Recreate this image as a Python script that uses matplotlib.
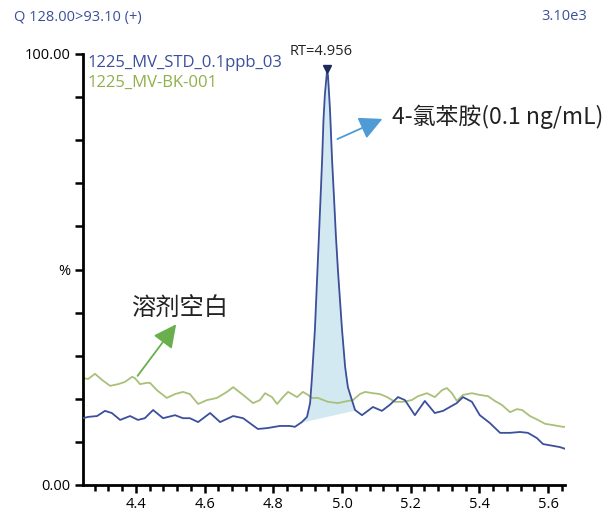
import numpy as np
import matplotlib.pyplot as plt

plt.rcParams['font.family'] = ['Open Sans', 'Noto Sans CJK SC', 'DejaVu Sans']

# retention time (min) / relative intensity (%)
std_t = [4.246, 4.261, 4.287, 4.310, 4.330, 4.354, 4.383, 4.406, 4.426, 4.450,
         4.479, 4.514, 4.537, 4.557, 4.581, 4.616, 4.645, 4.683, 4.712, 4.755,
         4.782, 4.819, 4.848, 4.863, 4.883, 4.898, 4.907, 4.912, 4.915, 4.921,
         4.927, 4.933, 4.939, 4.942, 4.946, 4.950, 4.956, 4.959, 4.965, 4.971,
         4.977, 4.982, 4.988, 4.994, 5.000, 5.009, 5.017, 5.026, 5.038, 5.058,
         5.090, 5.116, 5.139, 5.163, 5.183, 5.212, 5.241, 5.270, 5.294, 5.314,
         5.334, 5.352, 5.378, 5.401, 5.430, 5.460, 5.489, 5.518, 5.541, 5.567,
         5.585, 5.634, 5.649]
std_y = [15.5, 15.8, 16.0, 17.2, 16.7, 15.1, 16.0, 15.1, 15.5, 17.4,
         15.5, 16.2, 15.5, 15.5, 14.6, 16.7, 14.6, 16.0, 15.5, 13.0,
         13.2, 13.7, 13.7, 13.5, 14.6, 15.8, 19.0, 24.4, 28.3, 36.0,
         47.1, 58.2, 69.6, 75.4, 84.7, 90.5, 95.8, 95.1, 87.0, 75.4,
         66.1, 58.0, 49.9, 42.9, 36.0, 27.4, 22.7, 20.4, 17.4, 16.2,
         18.1, 17.2, 18.6, 20.4, 19.7, 16.2, 19.5, 16.7, 17.2, 18.1,
         19.0, 20.4, 19.3, 16.2, 14.4, 12.1, 12.1, 12.3, 12.1, 10.9,
         9.5, 8.8, 8.4]

blank_t = [4.246, 4.261, 4.281, 4.301, 4.325, 4.348, 4.368, 4.389, 4.397, 4.412,
           4.432, 4.441, 4.461, 4.490, 4.514, 4.537, 4.557, 4.581, 4.607, 4.636,
           4.665, 4.683, 4.712, 4.741, 4.761, 4.776, 4.796, 4.811, 4.828, 4.843,
           4.869, 4.886, 4.901, 4.912, 4.930, 4.959, 4.988, 5.017, 5.032, 5.052,
           5.067, 5.090, 5.110, 5.131, 5.154, 5.177, 5.203, 5.221, 5.247, 5.270,
           5.291, 5.305, 5.320, 5.334, 5.352, 5.378, 5.401, 5.425, 5.445, 5.465,
           5.489, 5.509, 5.524, 5.547, 5.570, 5.591, 5.614, 5.643, 5.649]
blank_y = [24.8, 24.6, 25.8, 24.4, 23.0, 23.4, 23.9, 25.1, 24.8, 23.4,
           23.7, 23.7, 22.0, 20.2, 21.1, 21.6, 21.1, 18.8, 19.7, 20.2,
           21.6, 22.7, 20.9, 19.0, 19.7, 21.3, 20.4, 18.8, 20.4, 21.6,
           20.4, 21.6, 20.9, 20.2, 20.2, 19.3, 19.0, 19.5, 19.7, 21.1,
           21.6, 21.3, 21.1, 20.4, 19.3, 19.3, 19.7, 20.6, 21.3, 20.4,
           22.0, 22.5, 21.3, 19.5, 20.9, 21.3, 20.9, 20.6, 19.5, 18.6,
           16.9, 17.6, 17.4, 16.0, 15.1, 14.2, 13.9, 13.5, 13.5]

peak_rt = 4.956
peak_start, peak_end = 4.883, 5.038
base_start, base_end = 14.6, 17.4

blue = '#3b4f9b'
green = '#a9c07a'

fig = plt.figure(figsize=(6.14, 5.13), dpi=100)
ax = fig.add_axes([83 / 614, 1 - 485 / 513, (565 - 83) / 614, (485 - 54) / 513])

st = np.array(std_t)
sy = np.array(std_y)
m = (st >= peak_start) & (st <= peak_end)
base = np.interp(st[m], [peak_start, peak_end], [base_start, base_end])
ax.fill_between(st[m], sy[m], base, color='#d3e9f1', lw=0, zorder=1)

ax.plot(blank_t, blank_y, color=green, lw=1.3, zorder=2)
ax.plot(std_t, std_y, color=blue, lw=1.3, zorder=3)

ax.plot([peak_rt], [96.6], marker='v', color='#1f2a5c', ms=6, zorder=4)
ax.text(4.939, 100.5, f'RT={peak_rt}', ha='center', va='center', fontsize=10.5, color='#222222')

ax.annotate('', xy=(5.125, 85.2), xytext=(4.979, 80.0),
            arrowprops=dict(arrowstyle='-|>,head_length=1.4,head_width=0.7',
                            color='#4f9bd6', lw=1.3))
ax.text(5.145, 85.4, '4-氯苯胺(0.1 ng/mL)', ha='left', va='center', fontsize=16.5,
        color='#222222', family=['Noto Sans CJK SC'], fontweight='light')

ax.annotate('', xy=(4.522, 37.8), xytext=(4.400, 24.8),
            arrowprops=dict(arrowstyle='-|>,head_length=1.4,head_width=0.7',
                            color='#6aaf4e', lw=1.3))
ax.text(4.528, 41.1, '溶剂空白', ha='center', va='center', fontsize=17.5,
        color='#222222', family=['Noto Sans CJK SC'], fontweight='light')

ax.set_xlim(4.246, 5.649)
ax.set_ylim(0, 100)
ax.set_xticks([4.4, 4.6, 4.8, 5.0, 5.2, 5.4, 5.6])
ax.set_xticklabels(['4.4', '4.6', '4.8', '5.0', '5.2', '5.4', '5.6'])
ax.set_xticks(np.arange(4.28, 5.65, 0.04), minor=True)
ax.set_yticks(np.arange(0, 101, 10))
ax.set_yticklabels(['0.00', '', '', '', '', '%', '', '', '', '', '100.00'])
ax.tick_params(axis='both', which='major', length=6, width=1.8, labelsize=10.5, pad=3)
ax.tick_params(axis='x', which='minor', length=4, width=1.8)
for s in ['top', 'right']:
    ax.spines[s].set_visible(False)
for s in ['left', 'bottom']:
    ax.spines[s].set_linewidth(2)

fig.text(14 / 614, 1 - 17 / 513, 'Q 128.00>93.10 (+)', ha='left', va='center', fontsize=10.5, color=blue)
fig.text(587 / 614, 1 - 17 / 513, '3.10e3', ha='right', va='center', fontsize=10.5, color=blue)
fig.text(88 / 614, 1 - 63 / 513, '1225_MV_STD_0.1ppb_03', ha='left', va='center', fontsize=12, color=blue)
fig.text(88 / 614, 1 - 83 / 513, '1225_MV-BK-001', ha='left', va='center', fontsize=12, color='#8fb04a')

fig.savefig('out.png', dpi=100)
